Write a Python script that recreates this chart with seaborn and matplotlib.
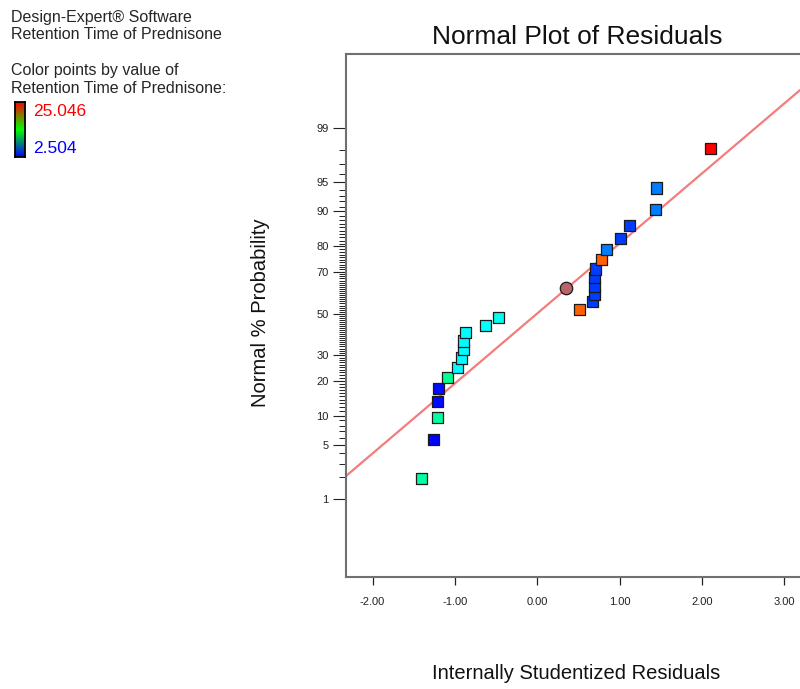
import numpy as np
import matplotlib
matplotlib.use("Agg")
import matplotlib.pyplot as plt
import seaborn as sns
import pandas as pd
from statistics import NormalDist
from matplotlib.colors import LinearSegmentedColormap

# ---------------- data ----------------
residuals = [-1.409, -1.263, -1.215, -1.215, -1.203, -1.084, -0.972, -0.915, -0.895,
             -0.895, -0.866, -0.632, -0.466, 0.519, 0.676, 0.700, 0.700, 0.700,
             0.708, 0.785, 0.842, 1.016, 1.126, 1.437, 1.454, 2.110]
probabilities = [1.92, 5.77, 9.62, 13.46, 17.31, 21.15, 25.00, 28.85, 32.69, 36.54,
                 40.38, 44.23, 48.08, 51.92, 55.77, 59.62, 63.46, 67.31, 71.15, 75.00,
                 78.85, 82.69, 86.54, 90.38, 94.23, 98.08]
retention = [10.2, 2.6, 10.2, 2.7, 2.8, 10.6, 8.1, 8.1, 8.1,
             8.1, 8.1, 8.2, 8.5, 22.9, 3.9, 3.9, 3.9, 3.9,
             3.9, 22.9, 5.3, 3.9, 3.9, 5.3, 5.3, 25.046]
highlight_residual = [0.348]
highlight_probability = [62.5]

retention_min, retention_max = 2.504, 25.046
line_slope = 0.8775          # normal quantile per residual unit, through (0, 50 %)

y_major_ticks = [1, 5, 10, 20, 30, 50, 70, 80, 90, 95, 99]
y_minor_ticks = [p for p in range(1, 100) if p not in y_major_ticks]
x_ticks = [-2, -1, 0, 1, 2, 3]
x_tick_labels = ["-2.00", "-1.00", "0.00", "1.00", "2.00", "3.00"]

# ---------------- style ----------------
sns.set_style("white")
plt.rcParams["font.family"] = ["Liberation Sans", "DejaVu Sans"]

nd = NormalDist()
_fwd = np.vectorize(lambda p: nd.inv_cdf(min(max(p, 1e-9), 100 - 1e-9) / 100.0), otypes=[float])
_inv = np.vectorize(lambda z: nd.cdf(z) * 100.0, otypes=[float])

point_cmap = LinearSegmentedColormap.from_list(
    "pts", [(0.0, "#0000ff"), (0.25, "#00ffff"), (0.5, "#00ff00"), (0.75, "#ffff00"), (1.0, "#ff0000")])
legend_cmap = LinearSegmentedColormap.from_list("leg", ["#0000ff", "#00ff00", "#ff0000"])

fig = plt.figure(figsize=(8, 6.89), dpi=100)
W, H = 800, 689
ax = fig.add_axes([346 / W, 112 / H, 462.7 / W, 523 / H])
ax.set_yscale("function", functions=(_fwd, _inv))

df = pd.DataFrame({"res": residuals, "prob": probabilities, "ret": retention})

# reference line
x0, x1 = -2.322, 3.298
xs = np.array([x0, x1])
ax.plot(xs, _inv(line_slope * xs), color="#f47c7c", lw=1.6, zorder=1)

sns.scatterplot(data=df, x="res", y="prob", hue="ret", palette=point_cmap,
                hue_norm=(retention_min, retention_max), marker="s", s=64,
                edgecolor="#1a1a1a", linewidth=0.9, legend=False, ax=ax, zorder=3)
sns.scatterplot(x=highlight_residual, y=highlight_probability, color="#b8646a",
                marker="o", s=80, edgecolor="#1a1a1a", linewidth=0.9, legend=False,
                ax=ax, zorder=3)

ax.set_xlim(x0, x1)
ax.set_ylim(0.0477, 99.9431)

ax.set_yticks(y_major_ticks)
ax.set_yticklabels([str(v) for v in y_major_ticks])
ax.set_yticks(y_minor_ticks, minor=True)
ax.set_xticks(x_ticks)
ax.set_xticklabels(x_tick_labels)

ax.tick_params(axis="y", which="major", left=True, length=9.4, width=0.8,
               color="#222222", pad=3, labelsize=8, labelcolor="#222222")
ax.tick_params(axis="y", which="minor", left=True, length=5, width=0.7, color="#222222")
ax.tick_params(axis="x", which="major", bottom=True, length=5.5, width=0.9,
               color="#222222", pad=9, labelsize=8, labelcolor="#222222")

for sp in ax.spines.values():
    sp.set_color("#707070")
    sp.set_linewidth(1.5)

ax.set_title("Normal Plot of Residuals", fontsize=19, pad=7, color="#111111")
ax.set_xlabel("Internally Studentized Residuals", fontsize=14.5, color="#111111")
ax.xaxis.set_label_coords((576 - 346) / 462.7, (577 - 664) / 523)
ax.set_ylabel("Normal % Probability", fontsize=14.5, color="#111111", va="center")
ax.yaxis.set_label_coords((261 - 346) / 462.7, (577 - 313) / 523)

# ---------------- top-left annotation ----------------
def fy(px):
    return 1 - px / H

fs = 11.5
fig.text(11 / W, fy(21.7), "Design-Expert® Software", fontsize=fs, va="baseline")
fig.text(11 / W, fy(39.3), "Retention Time of Prednisone", fontsize=fs, va="baseline")
fig.text(11 / W, fy(75.0), "Color points by value of", fontsize=fs, va="baseline")
fig.text(11 / W, fy(93.3), "Retention Time of Prednisone:", fontsize=fs, va="baseline")
fig.text(33 / W, fy(115.5), f"{retention_max:.3f}", fontsize=12.5, va="baseline", color="#ff0000")
fig.text(33 / W, fy(153.0), f"{retention_min:.3f}", fontsize=12.5, va="baseline", color="#0000ff")

cax = fig.add_axes([15 / W, 1 - 157 / H, 10 / W, 55 / H])
grad = np.linspace(0, 1, 256).reshape(-1, 1)
cax.imshow(grad, aspect="auto", cmap=legend_cmap, origin="lower")
cax.set_xticks([])
cax.set_yticks([])
for sp in cax.spines.values():
    sp.set_color("#000000")
    sp.set_linewidth(1.3)

fig.savefig("out.png", dpi=100)
